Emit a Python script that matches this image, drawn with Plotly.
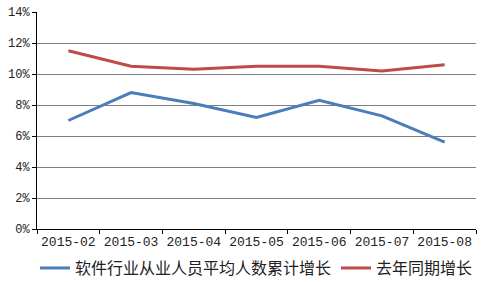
import plotly.graph_objects as go

months = ["2015-02", "2015-03", "2015-04", "2015-05", "2015-06", "2015-07", "2015-08"]
software_growth = [0.070, 0.088, 0.081, 0.072, 0.083, 0.073, 0.056]
last_year_growth = [0.115, 0.105, 0.103, 0.105, 0.105, 0.102, 0.106]
series_names = ["软件行业从业人员平均人数累计增长", "去年同期增长"]

fig = go.Figure()
fig.add_trace(go.Scatter(x=months, y=software_growth, mode="lines", name=series_names[0],
                         line=dict(color="#4A7EBB", width=3)))
fig.add_trace(go.Scatter(x=months, y=last_year_growth, mode="lines", name=series_names[1],
                         line=dict(color="#BE4B48", width=3)))

tick_font = dict(family="Liberation Mono", size=13, color="#222")
fig.update_layout(
    width=483, height=282,
    margin=dict(l=37, r=7, t=12, b=53, autoexpand=False),
    paper_bgcolor="white", plot_bgcolor="white",
    showlegend=True,
    legend=dict(orientation="h", x=0.5, xanchor="center", y=-0.18, yanchor="middle",
                font=dict(family="Noto Sans CJK SC", size=16, color="#222"),
                itemwidth=30, tracegroupgap=0),
    xaxis=dict(type="category", range=[-0.5, 6.5], showgrid=False, showline=True,
               linecolor="black", linewidth=1, ticks="outside", tickson="boundaries",
               ticklen=4, tickcolor="black", tickfont=tick_font, tickangle=0,
               fixedrange=True),
    yaxis=dict(range=[0, 0.14], dtick=0.02, tickformat=".0%", showgrid=True,
               gridcolor="#7f7f7f", gridwidth=1, showline=True, linecolor="black",
               linewidth=1, ticks="outside", ticklen=4, tickcolor="black",
               tickfont=dict(family="Liberation Mono", size=12, color="#222"), zeroline=False),
)
fig.write_html("out.html")
